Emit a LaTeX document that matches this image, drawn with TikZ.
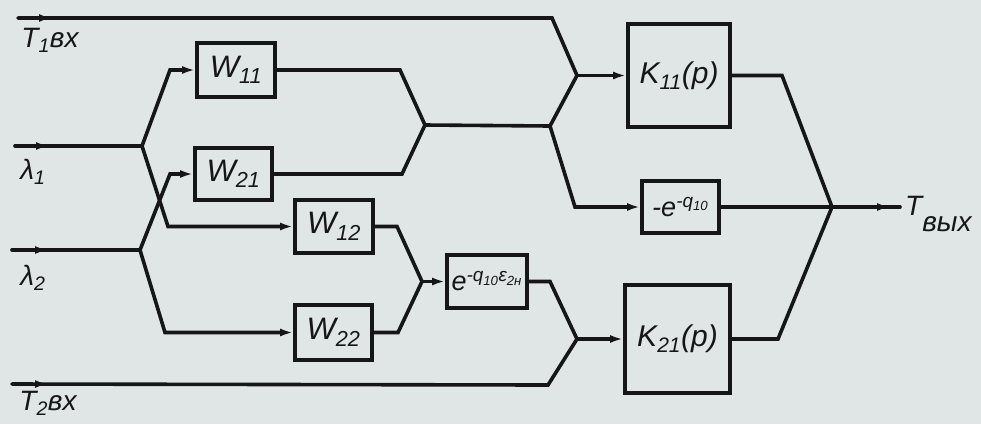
\documentclass[tikz,border=0pt]{standalone}
\usepackage{fontspec}
\setmainfont{Liberation Sans}
\usetikzlibrary{arrows.meta,decorations.markings}
\definecolor{paper}{RGB}{224,229,229}
\definecolor{ink}{RGB}{22,22,22}
\newcommand\lo[1]{\textsubscript{#1}}
\newcommand\hi[1]{\textsuperscript{#1}}

\begin{document}
\begin{tikzpicture}[x=1pt,y=-1pt,
  wire/.style={line width=3.6pt,draw=ink,line join=miter,line cap=round},
  tip/.style={-{Latex[length=13pt,width=8pt]}},
  blk/.style={draw=ink,line width=3.8pt,inner sep=0pt,text=ink,
              font=\fontsize{31}{31}\selectfont\itshape},
  kblk/.style={blk,font=\fontsize{30}{30}\selectfont\itshape},
  eblk/.style={blk,font=\fontsize{27}{27}\selectfont\itshape},
  marked/.style={postaction={decorate},decoration={markings,
      mark=at position #1 with {\arrow{Latex[length=13pt,width=8pt]}}}},
  lbl/.style={text=ink,inner sep=0pt,font=\fontsize{28}{28}\selectfont\itshape}]
\fill[paper] (0,0) rectangle (981,424);
\useasboundingbox (0,0) rectangle (981,424);

% transfer blocks
\node[blk,minimum width=78pt,minimum height=54pt] (w11) at (236,70) {W\lo{11}};
\node[blk,minimum width=77pt,minimum height=52pt] (w21) at (233.5,174) {W\lo{21}};
\node[blk,minimum width=78pt,minimum height=53pt] (w12) at (334,226.5) {W\lo{12}};
\node[blk,minimum width=77pt,minimum height=55pt] (w22) at (333.5,332.5) {W\lo{22}};
\node[eblk,minimum width=80pt,minimum height=53pt] (eb) at (487,281.5) {e\hi{-q\lo{10}ε\lo{2н}}};
\node[kblk,minimum width=102pt,minimum height=103pt] (k11) at (679,75.5) {K\lo{11}(p)};
\node[eblk,minimum width=77pt,minimum height=52pt] (me) at (680.5,207) {-e\hi{-q\lo{10}}};
\node[kblk,minimum width=105pt,minimum height=108pt] (k21) at (677.5,339) {K\lo{21}(p)};

% branch and summing points
\coordinate (ja) at (142,146);
\coordinate (jb) at (140,250);
\coordinate (jc) at (425,125);
\coordinate (jd) at (550,126);
\coordinate (je) at (577,75.5);
\coordinate (jf) at (422,281.5);
\coordinate (jg) at (577,339);
\coordinate (jh) at (832,207);
\coordinate (t1) at (18,18);
\coordinate (l1) at (15,146);
\coordinate (l2) at (12,250);
\coordinate (t2) at (12,384);
\coordinate (out) at (900,207);

% inputs
\draw[wire,marked=34pt] (t1) -- (552,18) -- (je);
\draw[wire,marked=34pt] (l1) -- (ja);
\draw[wire,marked=36pt] (l2) -- (jb);
\draw[wire,marked=36pt] (t2) -- (548,385) -- (jg);

% branches into the W blocks
\draw[wire,tip] (ja) -- (170,70) -- (w11.west);
\draw[wire,tip] (ja) -- (168,226.5) -- (w12.west);
\draw[wire,tip] (jb) -- (170,174) -- (w21.west);
\draw[wire,tip] (jb) -- (165,332.5) -- (w22.west);

% upper channel
\draw[wire] (w11.east) -- (400,70) -- (jc);
\draw[wire] (w21.east) -- (402,174) -- (jc);
\draw[wire] (jc) -- (jd) -- (je);
\draw[wire,tip] (je) -- (je-|k11.west);
\draw[wire,tip] (jd) -- (575,207) -- (me.west);

% lower channel
\draw[wire] (w12.east) -- (397,226.5) -- (jf);
\draw[wire] (w22.east) -- (398,332.5) -- (jf);
\draw[wire,tip] (jf) -- (eb.west);
\draw[wire] (eb.east) -- (550,281.5) -- (jg);
\draw[wire,tip] (jg) -- (jg-|k21.west);

% output sum
\draw[wire] (k11.east) -- (782,75.5) -- (jh);
\draw[wire] (k21.east) -- (778,339) -- (jh);
\draw[wire] (me.east) -- (jh);
\draw[wire,marked=58pt] (jh) -- (out);

% signal names
\node[lbl] (lt1) at (50,40) {T\lo{1}вх};
\node[lbl] (ll1) at (33,172) {λ\lo{1}};
\node[lbl] (ll2) at (33,278) {λ\lo{2}};
\node[lbl] (lt2) at (48,403) {T\lo{2}вх};
\node[lbl,anchor=west] (lout) at (905,214) {T\raisebox{-0.55em}{вых}};
\end{tikzpicture}
\end{document}
